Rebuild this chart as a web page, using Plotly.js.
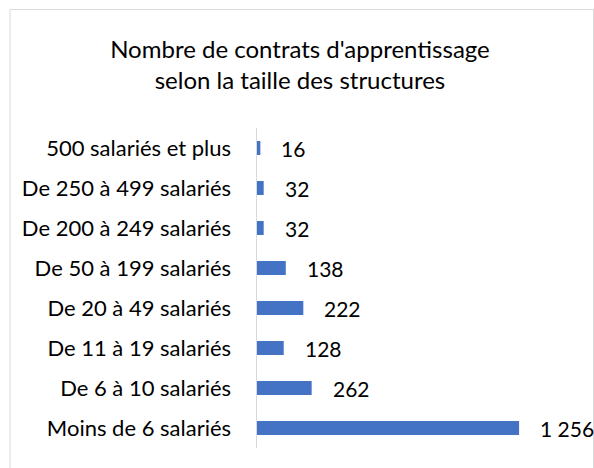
<!DOCTYPE html>
<html><head><meta charset="utf-8">
<script src="https://cdn.plot.ly/plotly-3.0.1.min.js"></script>
<style>html,body{margin:0;padding:0;background:#fff}</style>
</head><body><div id="chart" style="width:594px;height:468px"></div>
<script>
const categories = ["Moins de 6 salariés","De 6 à 10 salariés","De 11 à 19 salariés","De 20 à 49 salariés","De 50 à 199 salariés","De 200 à 249 salariés","De 250 à 499 salariés","500 salariés et plus"];
const values = [1256, 262, 128, 222, 138, 32, 32, 16];
const titleText = "Nombre de contrats d'apprentissage<br>selon la taille des structures";

function fmt(v){ return String(v).replace(/\B(?=(\d{3})+(?!\d))/g, " "); }

const W = 594, H = 468;
const m = {l:257, r:24, t:128, b:20};
const pw = W - m.l - m.r, ph = H - m.t - m.b;
const px = x => (x - m.l)/pw;
const py = y => (H - m.b - y)/ph;
const FONT = "Lato, 'Open Sans', sans-serif";

const trace = {
  type:'bar', orientation:'h', y:categories, x:values,
  marker:{color:'#4472C4'}, hoverinfo:'none'
};
const annotations = values.map((v,i)=>({
  x:v, y:categories[i], xref:'x', yref:'y', text:fmt(v), showarrow:false,
  xanchor:'left', xshift:19, font:{size:21, color:'#000', family:FONT}
}));
const layout = {
  width:W, height:H, margin:m, paper_bgcolor:'#fff', plot_bgcolor:'#fff',
  bargap:0.65, showlegend:false,
  font:{family:FONT, color:'#000', size:22},
  title:{text:titleText, x:0.505, xref:'container', y:1-58/H, yref:'container', yanchor:'top', font:{size:24, color:'#000', family:FONT}},
  xaxis:{range:[0,1500], visible:false, fixedrange:true},
  yaxis:{type:'category', showline:true, linecolor:'#d9d9d9', linewidth:1.5, showgrid:false, zeroline:false, ticks:'', ticklabelstandoff:20, tickfont:{size:22, color:'#000'}},
  annotations:annotations,
  shapes:[{type:'rect', xref:'paper', yref:'paper', x0:px(10), x1:px(593.5), y0:py(475), y1:py(9.5), line:{color:'#d9d9d9', width:1}, layer:'below'}]
};
Plotly.newPlot('chart',[trace],layout,{displayModeBar:false, staticPlot:true});
</script></body></html>
